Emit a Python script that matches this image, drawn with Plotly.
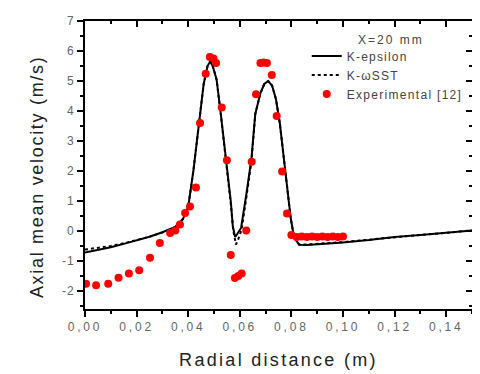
import plotly.graph_objects as go

# K-epsilon model (solid)
ke_x = [0, 0.005, 0.01, 0.015, 0.02, 0.025, 0.03, 0.035, 0.038, 0.040, 0.042, 0.044, 0.046,
        0.0475, 0.0485, 0.0495, 0.051, 0.0525, 0.0545, 0.0555, 0.0565, 0.0573, 0.0582, 0.059,
        0.0605, 0.0625, 0.0645, 0.066, 0.068, 0.0695, 0.071, 0.0725, 0.074, 0.0755, 0.077,
        0.0785, 0.0797, 0.081, 0.083, 0.086, 0.09, 0.10, 0.11, 0.12, 0.13, 0.14, 0.15]
ke_y = [-0.72, -0.64, -0.54, -0.43, -0.32, -0.19, -0.04, 0.14, 0.4, 0.8, 2.0, 3.5, 4.9,
        5.5, 5.65, 5.5, 5.05, 4.0, 2.5, 1.6, 1.0, 0.15, -0.2, -0.1,
        0.1, 1.2, 2.4, 3.9, 4.6, 4.9, 5.0, 4.85, 4.4, 3.6, 2.4,
        1.3, 0.45, -0.2, -0.46, -0.47, -0.45, -0.38, -0.3, -0.2, -0.13, -0.06, 0.02]

# K-omega SST model (dotted)
sst_x = [0, 0.005, 0.01, 0.015, 0.02, 0.025, 0.03, 0.035, 0.038, 0.040, 0.042, 0.044, 0.046,
         0.0475, 0.0485, 0.0495, 0.051, 0.0525, 0.0545, 0.0555, 0.0565, 0.0575, 0.0585, 0.0593,
         0.0607, 0.0625, 0.0645, 0.066, 0.068, 0.0695, 0.071, 0.0725, 0.074, 0.0755, 0.077,
         0.0785, 0.0797, 0.081, 0.083, 0.086, 0.09, 0.10, 0.11, 0.12, 0.13, 0.14, 0.15]
sst_y = [-0.62, -0.57, -0.5, -0.41, -0.31, -0.19, -0.05, 0.13, 0.4, 0.8, 2.0, 3.5, 4.9,
         5.5, 5.65, 5.5, 5.05, 4.0, 2.5, 1.6, 0.9, 0.0, -0.45, -0.3,
         0.05, 1.1, 2.3, 3.9, 4.6, 4.9, 5.0, 4.85, 4.4, 3.6, 2.4,
         1.3, 0.45, -0.2, -0.45, -0.45, -0.43, -0.37, -0.29, -0.2, -0.13, -0.06, 0.02]

# Experimental [12]
exp_x = [0.0004, 0.0043, 0.009, 0.013, 0.017, 0.021, 0.0252, 0.029, 0.033, 0.035, 0.0368,
         0.0388, 0.0407, 0.043, 0.0446, 0.0468, 0.0484, 0.0498, 0.0508, 0.053, 0.055, 0.0565,
         0.0581, 0.0594, 0.0607, 0.0625, 0.0646, 0.0663, 0.068, 0.0692, 0.0705, 0.0724, 0.0743,
         0.0764, 0.0783, 0.080, 0.082, 0.084, 0.086, 0.088, 0.090, 0.092, 0.094, 0.096, 0.098, 0.100]
exp_y = [-1.76, -1.81, -1.76, -1.56, -1.42, -1.31, -0.89, -0.4, -0.07, 0.02, 0.22,
         0.6, 0.82, 1.45, 3.6, 5.24, 5.8, 5.75, 5.6, 4.12, 2.36, -0.8,
         -1.57, -1.5, -1.42, 0.02, 2.31, 4.56, 5.6, 5.62, 5.6, 5.2, 3.83,
         1.98, 0.58, -0.13, -0.2, -0.18, -0.2, -0.18, -0.2, -0.18, -0.2, -0.18, -0.2, -0.18]

x_ticks = [0, 0.02, 0.04, 0.06, 0.08, 0.10, 0.12, 0.14]
x_tick_labels = ["0,00", "0,02", "0,04", "0,06", "0,08", "0,10", "0,12", "0,14"]
y_ticks = [-2, -1, 0, 1, 2, 3, 4, 5, 6, 7]
y_tick_labels = ["-2", "-1", "0", "1", "2", "3", "4", "5", "6", "7"]


def spaced(text, px):
    return '<span style="letter-spacing:%.1fpx">%s</span>' % (px, text)


FONT = "Liberation Sans, Arial, sans-serif"

fig = go.Figure()
fig.add_trace(go.Scatter(x=ke_x, y=ke_y, mode="lines", name=spaced("K-epsilon", 1.2),
                         line=dict(color="black", width=2)))
fig.add_trace(go.Scatter(x=sst_x, y=sst_y, mode="lines", name=spaced("K-\u03c9SST", 1.2),
                         line=dict(color="black", width=2, dash="dot")))
fig.add_trace(go.Scatter(x=exp_x, y=exp_y, mode="markers",
                         name=spaced("Experimental [12]", 1.3),
                         marker=dict(color="#ff0000", size=8, symbol="circle")))
fig.add_trace(go.Scatter(x=[], y=[], xaxis="x2", yaxis="y2", showlegend=False,
                         hoverinfo="skip"))

common = dict(showline=True, linecolor="black", linewidth=2, showgrid=False,
              zeroline=False, automargin=False)

fig.update_layout(
    width=472, height=366,
    margin=dict(l=77, r=8, t=13, b=65),
    paper_bgcolor="white", plot_bgcolor="white",
    font=dict(family=FONT, color="#555555", size=12),
    xaxis=dict(range=[0, 0.15], tickvals=x_ticks,
               ticktext=[spaced(t, 2.8) for t in x_tick_labels],
               ticks="outside", ticklen=6, tickwidth=1.5, tickcolor="black",
               minor=dict(dtick=0.01, ticks="outside", ticklen=3, tickwidth=1.5,
                          tickcolor="black"),
               tickfont=dict(size=12, color="#666666"),
               title=dict(text=spaced("Radial distance (m)", 2.3), standoff=20,
                          font=dict(size=18, color="#222222")),
               **common),
    yaxis=dict(range=[-2.6, 7], tickvals=y_ticks,
               ticktext=[spaced(t, 1.0) for t in y_tick_labels],
               ticks="outside", ticklen=6, tickwidth=1.5, tickcolor="black",
               minor=dict(dtick=0.5, ticks="outside", ticklen=3, tickwidth=1.5,
                          tickcolor="black"),
               tickfont=dict(size=12, color="#666666"),
               **common),
    xaxis2=dict(overlaying="x", side="top", matches="x", range=[0, 0.15],
                tickvals=x_ticks, showticklabels=False, ticks="inside", ticklen=6,
                tickwidth=1.5, tickcolor="black",
                minor=dict(dtick=0.01, ticks="inside", ticklen=3, tickwidth=1.5,
                           tickcolor="black"),
                anchor="y", **common),
    yaxis2=dict(overlaying="y", side="right", matches="y", range=[-2.6, 7],
                tickvals=y_ticks, showticklabels=False, ticks="inside", ticklen=6,
                tickwidth=1.5, tickcolor="black",
                minor=dict(dtick=0.5, ticks="inside", ticklen=3, tickwidth=1.5,
                           tickcolor="black"),
                anchor="x", **common),
    legend=dict(x=0.573, y=0.929, xanchor="left", yanchor="top",
                bgcolor="rgba(0,0,0,0)", font=dict(size=12, color="#444444"),
                tracegroupgap=0),
    annotations=[
        dict(text=spaced("X=20 mm", 2.0), x=0.79, y=0.934, xref="paper", yref="paper",
             xanchor="center", yanchor="middle", showarrow=False,
             font=dict(size=12, color="#444444")),
        dict(text=spaced("Axial mean velocity (m/s)", 1.7), textangle=-90,
             x=-0.124, y=0.458, xref="paper", yref="paper",
             xanchor="center", yanchor="middle", showarrow=False,
             font=dict(size=18, color="#222222")),
    ],
)

fig.write_html("out.html")
